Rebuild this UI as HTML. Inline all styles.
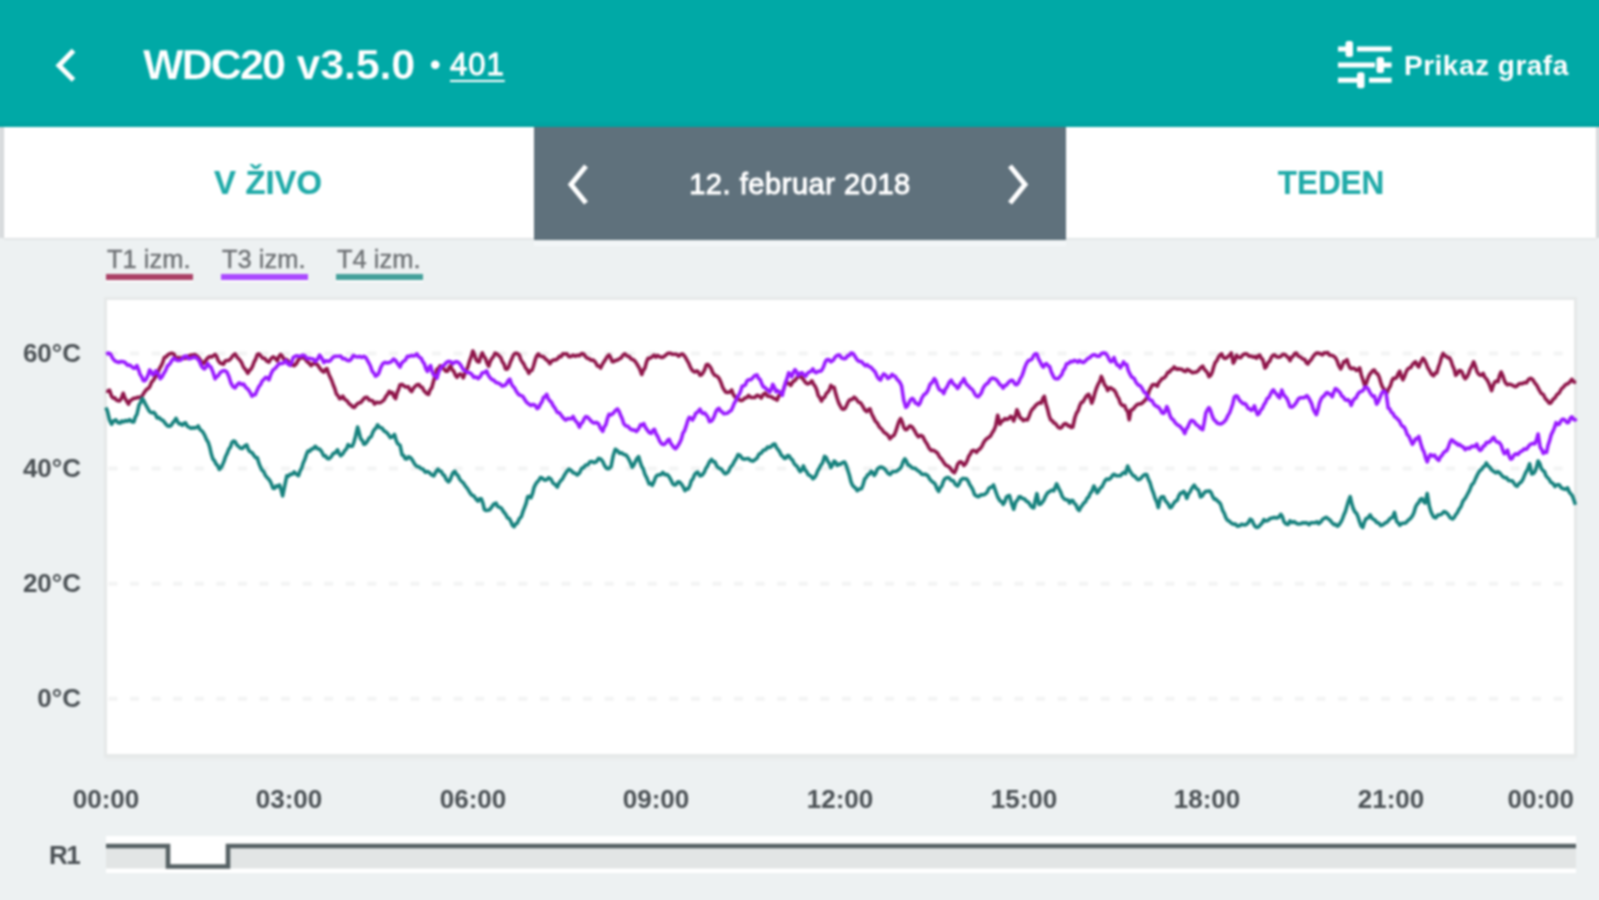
<!DOCTYPE html>
<html lang="sl">
<head>
<meta charset="utf-8">
<title>WDC20 v3.5.0</title>
<style>
html,body{margin:0;padding:0;}
body{width:1599px;height:900px;overflow:hidden;background:#edf1f2;font-family:"Liberation Sans",sans-serif;position:relative;}
#root{position:absolute;left:-10px;top:-10px;width:1619px;height:920px;overflow:hidden;background:#edf1f2;filter:blur(0.9px);}
#in{position:absolute;left:10px;top:10px;width:1599px;height:900px;}
.abs{position:absolute;white-space:nowrap;}
#header{left:-10px;top:-10px;width:1619px;height:137.6px;background:linear-gradient(to bottom,#00a9a6 0,#00a9a6 130px,#00a19f 136px,#00a19f 137px);}
#title{left:143px;top:40px;font-size:43px;line-height:48px;font-weight:bold;letter-spacing:-0.9px;color:#fff;-webkit-text-stroke:0.25px #00a9a6;}
#bullet{left:430px;top:44.5px;font-size:30px;line-height:40px;color:#fff;font-weight:bold;}
#num{left:450px;top:45px;font-size:31px;line-height:40px;letter-spacing:1px;color:#fff;-webkit-text-stroke:0.9px #fff;text-decoration:underline;text-decoration-thickness:2px;text-underline-offset:5px;}
#prikaz{left:1404px;top:49px;font-size:28px;line-height:34px;font-weight:bold;letter-spacing:0.5px;color:#fff;}
#tabL{left:4px;top:127px;width:530px;height:111px;background:#fff;box-shadow:0 1px 2px rgba(0,0,0,.10);}
#tabR{left:1066px;top:127px;width:530px;height:111px;background:#fff;box-shadow:0 1px 2px rgba(0,0,0,.08);}
#tabM{left:534px;top:127px;width:532px;height:113px;background:#5f717c;}
.tabtxt{font-size:34px;line-height:40px;color:#1faaa8;font-weight:bold;text-align:center;-webkit-text-stroke:0.2px #1faaa8;}
#date{left:534px;top:164px;width:532px;text-align:center;font-size:29px;line-height:40px;letter-spacing:0.55px;color:#fff;-webkit-text-stroke:1px #fff;}
.leg{top:244px;font-size:25.5px;line-height:30px;color:#6d7174;-webkit-text-stroke:0.4px #6d7174;text-shadow:0 1px 0 rgba(255,255,255,.7);}
.legbar{top:274px;height:6px;box-shadow:0 2px 1px rgba(255,255,255,.8);}
#plot{left:107px;top:300px;width:1467px;height:454px;background:#fff;box-shadow:0 0 0 3px #e6e9e9,0 3px 3px 2px #e7eaea;}
.yl{left:0;width:81px;text-align:right;font-size:26px;line-height:30px;font-weight:bold;color:#4b5155;}
.xl{top:784px;width:120px;text-align:center;font-size:26px;line-height:30px;font-weight:bold;color:#4b5155;}
#r1{left:49px;top:840px;font-size:26px;letter-spacing:-1.5px;line-height:30px;font-weight:bold;color:#4b5155;}
#strip{left:106px;top:836px;width:1470px;height:37px;background:#fff;}
</style>
</head>
<body>
<div id="root"><div id="in">
<div id="header" class="abs"></div>
<svg class="abs" style="left:50px;top:45px" width="32" height="42" viewBox="0 0 32 42"><path d="M23.5 5.5 L9 20.5 L23.5 35" fill="none" stroke="#fff" stroke-width="5"/></svg>
<div id="title" class="abs"><span style="letter-spacing:-1.9px">WDC20</span><span style="letter-spacing:-0.2px;margin-left:0.8px"> v3.5.0</span></div>
<div id="bullet" class="abs">•</div>
<div id="num" class="abs">401</div>
<svg class="abs" style="left:1334px;top:36px" width="62" height="56" viewBox="0 0 62 56">
<g fill="#fff">
<rect x="4" y="10.5" width="9" height="5"/><rect x="11.5" y="5" width="7.5" height="16" rx="2.5"/><rect x="23" y="10.5" width="34.6" height="5"/>
<rect x="4" y="26.5" width="37" height="5"/><rect x="42.5" y="21" width="7.5" height="16" rx="2.5"/><rect x="50" y="26.5" width="7.6" height="5"/>
<rect x="4" y="41.7" width="19" height="5"/><rect x="23" y="36.2" width="7.5" height="16" rx="2.5"/><rect x="35" y="41.7" width="22.6" height="5"/>
</g></svg>
<div id="prikaz" class="abs">Prikaz grafa</div>

<div class="abs" style="left:-10px;top:127px;width:1619px;height:111px;background:#d9dcde"></div>
<div id="tabL" class="abs"></div>
<div id="tabR" class="abs"></div>
<div id="tabM" class="abs"></div>
<div class="abs" style="left:534px;top:242px;width:532px;height:4px;background:#f3f6f8"></div>
<div class="abs tabtxt" style="left:3px;top:162.3px;width:530px;transform:scaleX(0.965);word-spacing:0.5px">V ŽIVO</div>
<div class="abs tabtxt" style="left:1066px;top:162.3px;width:530px;transform:scaleX(0.925)">TEDEN</div>
<svg class="abs" style="left:560px;top:160px" width="36" height="48" viewBox="0 0 36 48"><path d="M26 6 L11 24.5 L26 43" fill="none" stroke="#fff" stroke-width="5"/></svg>
<svg class="abs" style="left:1000px;top:160px" width="36" height="48" viewBox="0 0 36 48"><path d="M10 6 L25 24.5 L10 43" fill="none" stroke="#fff" stroke-width="5"/></svg>
<div id="date" class="abs">12. februar 2018</div>

<div class="abs leg" style="left:107px">T1 izm.</div>
<div class="abs legbar" style="left:106px;width:87px;background:#ab4166"></div>
<div class="abs leg" style="left:222px">T3 izm.</div>
<div class="abs legbar" style="left:221px;width:87px;background:#aa4aff"></div>
<div class="abs leg" style="left:337px">T4 izm.</div>
<div class="abs legbar" style="left:336px;width:87px;background:#44a09b"></div>

<div id="plot" class="abs"></div>
<div class="abs yl" style="top:338px">60°C</div>
<div class="abs yl" style="top:453px">40°C</div>
<div class="abs yl" style="top:568px">20°C</div>
<div class="abs yl" style="top:683px">0°C</div>

<svg id="chart" class="abs" style="left:0;top:0" width="1599" height="900" viewBox="0 0 1599 900">
<g stroke="#f3f4f4" stroke-width="4" stroke-dasharray="9 12.57" fill="none">
<path d="M108.5 353.6H1573"/><path d="M108.5 468.6H1573"/><path d="M108.5 583.7H1573"/><path d="M108.5 698.7H1573"/>
</g>
<path d="M106.3,390.7 107.9,391.3 109.5,390.2 111.6,396.3 113.2,398.1 114.8,397.8 116.3,400.0 117.9,400.7 119.5,400.9 121.1,398.9 123.2,393.3 124.8,397.9 126.4,400.7 128.5,404.1 130.1,400.7 131.7,399.7 133.8,398.2 135.9,398.1 138.0,397.2 140.1,397.6 142.2,395.9 144.3,392.3 146.4,389.6 148.6,388.2 150.1,385.9 151.7,381.8 153.3,380.4 154.9,377.8 156.5,375.6 158.1,372.2 159.6,368.3 161.2,365.8 162.8,362.3 164.4,357.2 166.0,357.0 167.6,355.1 169.7,353.8 171.8,353.2 173.9,354.1 175.5,357.5 177.1,358.8 178.8,357.4 180.6,358.7 182.3,357.4 184.4,358.4 186.6,357.9 188.7,355.9 190.8,355.1 192.9,355.1 194.7,354.6 196.4,355.6 198.2,357.1 200.3,359.9 202.4,363.8 204.0,362.9 205.6,360.6 207.7,358.0 209.8,356.5 211.6,357.0 213.3,355.8 215.1,354.5 216.6,356.3 218.2,360.5 220.0,363.0 221.7,363.5 223.5,364.2 225.1,361.2 226.7,360.5 228.8,360.5 230.9,358.5 233.0,355.5 235.1,353.9 237.2,357.3 239.3,359.4 241.4,362.3 243.6,367.4 245.7,369.8 247.8,373.3 249.4,370.5 251.0,369.2 252.6,366.2 254.1,362.0 255.7,359.2 257.3,354.5 258.9,353.9 260.5,355.6 262.6,358.1 264.7,358.3 266.8,361.1 268.9,362.1 271.0,358.6 273.1,356.9 275.2,358.2 277.3,360.9 278.9,356.5 280.5,354.5 282.1,355.9 283.7,359.2 285.8,359.2 287.9,360.5 289.5,364.0 291.1,365.2 292.6,364.6 294.2,365.7 296.4,363.6 298.5,359.6 300.6,358.0 302.7,357.5 304.8,358.7 306.9,361.5 309.0,363.0 311.1,365.6 313.2,363.5 315.3,363.8 317.5,364.7 319.6,367.9 321.7,370.7 323.8,372.1 325.4,369.4 327.0,368.7 328.6,373.6 330.1,377.1 331.7,380.5 333.3,385.0 334.9,388.9 336.5,394.2 338.1,395.7 339.6,398.7 341.2,398.3 342.8,396.2 344.9,399.5 347.0,400.7 349.1,403.8 351.2,405.2 352.8,407.0 354.4,407.4 356.5,404.7 358.6,403.0 360.7,402.5 362.8,400.0 365.0,397.5 367.1,397.4 369.2,400.0 371.3,400.4 372.9,401.2 374.5,404.0 376.6,402.3 378.7,402.8 380.8,402.4 382.9,400.9 384.5,399.2 386.1,396.2 387.6,394.3 389.2,391.3 390.8,393.1 392.4,392.5 394.0,396.6 395.6,398.5 397.1,392.8 398.7,389.0 400.0,384.8 402.1,384.4 404.2,386.2 406.3,387.0 408.4,386.7 410.0,390.0 411.6,391.6 413.2,388.6 414.8,386.7 416.9,384.7 419.0,384.5 420.6,387.0 422.2,387.2 423.8,390.4 425.3,392.0 426.9,393.8 428.5,394.3 430.1,389.8 431.7,387.9 433.8,380.3 435.4,375.4 436.9,369.2 438.5,368.6 440.1,365.8 442.2,366.8 444.3,369.4 445.9,371.2 447.5,371.2 449.1,367.5 450.7,365.8 452.2,369.8 453.8,371.2 455.4,375.1 457.0,377.3 458.6,375.0 460.2,373.9 461.8,375.1 463.3,377.8 464.9,373.2 466.5,370.4 468.1,366.1 469.7,360.6 471.2,356.7 472.8,351.0 474.4,354.5 476.0,359.4 477.6,361.7 479.2,361.9 480.8,356.2 482.3,352.9 483.9,356.3 485.5,358.6 487.1,363.1 488.7,366.2 490.2,361.5 491.8,358.7 493.4,356.7 495.0,353.2 497.1,354.0 499.2,356.1 500.8,357.7 502.4,361.8 504.0,364.1 505.6,369.0 507.1,369.1 508.7,367.0 510.3,362.3 511.9,358.7 513.5,354.9 515.1,353.3 517.2,353.4 519.3,355.2 520.8,359.6 522.4,362.1 524.0,364.4 525.6,368.1 527.2,369.7 528.8,373.4 530.3,370.7 531.9,370.5 533.5,366.0 535.1,360.2 536.7,355.8 538.3,353.9 539.8,355.9 541.4,356.4 543.5,356.7 545.7,359.2 547.8,360.7 549.9,363.7 552.0,360.7 554.1,359.9 555.9,359.9 557.6,358.7 559.4,356.4 561.2,356.6 562.9,353.8 564.7,354.0 566.8,353.7 568.9,356.6 571.0,356.5 573.1,355.1 575.2,356.3 577.3,355.2 579.4,355.7 581.6,353.6 583.7,354.1 585.5,356.6 587.2,358.3 589.0,358.6 591.1,360.2 593.2,360.1 595.3,362.0 597.4,366.0 599.0,366.0 600.6,368.0 602.7,363.7 604.8,360.6 606.9,357.1 609.0,354.9 610.6,357.5 612.2,361.6 613.8,361.8 615.3,360.4 617.5,360.1 619.6,358.7 621.3,357.8 623.1,354.9 624.8,353.8 627.0,356.1 629.1,356.5 631.2,359.1 633.3,359.7 635.4,361.6 637.5,365.0 639.6,368.7 641.7,374.5 643.3,370.4 644.9,368.1 646.5,362.0 648.1,358.2 650.2,358.1 652.3,356.7 654.1,355.1 655.8,357.1 657.6,355.4 659.7,356.8 661.8,357.5 663.9,356.7 666.0,354.9 668.1,353.2 670.2,353.2 672.4,354.3 674.5,354.3 676.6,354.2 678.7,356.2 680.8,354.4 682.9,354.1 685.0,356.7 687.1,360.3 688.7,363.1 690.3,367.0 691.9,369.9 693.5,371.3 695.0,372.0 696.6,370.9 698.3,371.8 700.0,375.2 701.6,374.8 703.2,372.5 704.8,369.4 706.3,364.7 707.9,364.4 709.5,366.0 711.1,368.4 712.7,372.5 714.8,375.4 716.9,376.1 719.0,378.2 721.1,382.8 722.7,387.3 724.3,390.1 725.8,392.3 727.4,392.4 729.5,392.2 731.7,390.0 733.2,394.3 734.8,396.7 736.4,398.6 738.0,398.3 739.6,400.0 741.2,400.6 742.8,400.1 744.3,398.3 746.5,397.8 748.6,395.5 750.7,397.4 752.8,397.5 754.9,397.5 757.0,395.2 759.1,396.0 761.2,398.0 763.3,394.3 765.4,393.2 767.5,396.1 769.7,396.5 771.8,397.0 773.9,398.7 775.5,398.8 777.1,400.1 778.7,396.0 780.2,394.2 781.8,392.6 783.4,390.0 785.0,385.0 786.6,382.5 788.7,383.4 790.8,385.3 792.9,381.6 795.0,380.4 797.1,377.7 799.2,376.3 801.3,377.2 803.4,379.4 805.5,382.6 807.7,383.9 809.8,383.1 811.9,380.8 813.5,384.1 815.1,386.1 816.7,389.8 818.2,395.5 819.8,397.6 821.4,401.1 823.0,398.1 824.6,397.3 826.2,393.6 827.7,392.2 829.3,390.1 830.9,385.4 832.5,387.4 834.1,387.2 835.7,393.6 837.2,398.5 838.8,403.1 840.4,406.1 842.0,408.8 843.6,409.3 845.2,408.3 846.7,405.3 848.3,401.6 849.9,399.7 852.0,399.4 854.1,397.2 856.2,398.9 858.3,402.1 860.5,402.8 862.6,405.9 864.7,409.8 866.8,411.6 868.4,409.6 870.0,408.8 871.5,413.5 873.1,416.6 875.2,420.9 877.3,423.1 879.5,427.2 881.6,429.0 883.7,432.0 885.8,433.5 887.9,435.1 890.0,438.8 892.1,436.4 894.2,435.2 895.8,431.2 897.4,426.1 899.0,421.3 900.6,418.6 902.2,422.0 903.7,427.1 905.3,429.6 906.9,429.5 908.5,427.2 910.1,425.9 912.2,427.1 914.3,430.2 916.4,434.1 918.5,436.8 920.6,435.4 922.7,436.4 924.9,440.8 927.0,443.9 929.1,448.1 931.2,450.5 933.3,450.3 935.4,451.5 937.5,453.2 939.6,457.0 941.7,459.3 943.8,462.6 946.0,465.3 948.1,466.2 950.2,468.1 952.3,471.3 954.4,472.7 956.0,469.5 957.6,464.3 959.2,462.3 960.7,461.8 962.3,463.0 963.9,465.4 965.5,464.0 967.1,460.8 968.7,456.4 970.2,454.3 971.8,451.2 973.4,450.4 975.0,450.9 976.6,452.3 978.2,450.0 979.7,449.1 981.9,446.3 984.0,441.9 986.1,439.2 988.2,437.7 990.3,436.3 992.4,432.5 994.0,430.1 995.6,426.1 997.7,415.2 1000.0,424.2 1001.6,421.4 1003.2,420.4 1004.8,418.7 1006.3,419.5 1008.5,418.8 1010.6,416.3 1012.2,417.5 1013.7,421.0 1015.3,416.5 1016.9,409.8 1018.5,413.2 1020.1,417.8 1021.7,418.5 1023.2,420.6 1025.3,419.6 1027.4,420.0 1029.0,416.6 1030.6,412.1 1032.2,409.4 1033.8,407.9 1035.9,405.1 1038.0,403.5 1039.6,402.7 1041.2,403.1 1042.8,398.6 1044.3,396.3 1045.9,403.7 1047.5,408.9 1049.1,415.5 1050.7,419.9 1052.2,420.6 1053.8,422.9 1055.4,423.5 1057.0,425.7 1058.6,427.6 1060.2,428.1 1061.8,427.2 1063.3,424.8 1064.9,423.6 1066.5,424.0 1068.1,425.9 1069.7,425.8 1071.2,427.4 1072.8,427.0 1074.9,417.5 1076.5,413.1 1078.1,410.7 1079.7,405.7 1081.3,402.5 1082.8,402.0 1084.4,399.3 1086.6,395.8 1088.7,394.3 1090.2,398.0 1091.8,403.1 1093.4,398.9 1095.0,392.5 1096.6,387.8 1098.2,384.1 1099.8,381.4 1101.3,376.4 1102.9,380.0 1104.5,384.8 1106.1,386.6 1107.7,390.5 1109.2,388.1 1110.8,387.7 1112.4,389.3 1114.0,389.9 1115.6,392.3 1117.2,396.1 1118.8,398.6 1120.3,403.2 1122.4,405.5 1124.6,405.6 1126.2,409.6 1127.7,411.5 1129.2,419.8 1130.9,410.2 1133.0,409.4 1135.1,406.7 1137.2,404.4 1139.3,403.9 1141.4,403.7 1143.6,401.6 1145.7,399.7 1147.8,395.6 1149.4,390.3 1151.0,387.4 1152.5,384.7 1154.1,384.5 1155.7,384.7 1157.3,386.2 1158.9,382.3 1160.5,380.8 1162.0,378.6 1163.6,378.3 1165.7,376.3 1167.8,372.2 1169.4,372.1 1171.0,369.9 1172.6,369.2 1174.2,366.9 1176.3,369.1 1178.4,368.9 1180.2,369.1 1181.9,369.2 1183.7,371.1 1185.5,371.5 1187.2,369.4 1189.0,370.1 1190.7,371.6 1192.5,372.8 1194.2,372.2 1196.3,372.1 1198.5,370.5 1200.6,367.6 1202.7,366.1 1204.2,369.2 1205.8,370.8 1207.4,372.7 1209.0,376.6 1210.6,375.5 1212.2,372.3 1213.8,366.5 1215.3,362.4 1216.9,360.6 1218.5,357.1 1220.1,354.8 1221.7,353.9 1223.2,357.3 1224.8,358.4 1226.4,358.1 1228.0,356.4 1229.6,355.2 1231.2,353.0 1233.3,363.1 1234.9,360.3 1236.5,355.3 1238.6,357.4 1240.7,357.6 1242.8,354.9 1244.9,353.8 1247.0,354.1 1249.1,356.2 1251.2,356.1 1253.3,357.2 1254.9,356.6 1256.5,358.2 1258.1,355.8 1259.7,355.1 1261.2,358.1 1262.8,359.6 1265.0,368.1 1266.5,366.4 1268.1,362.4 1269.7,361.3 1271.3,357.5 1272.9,355.3 1274.5,354.9 1276.6,356.8 1278.7,357.3 1280.8,356.4 1282.9,354.3 1285.0,354.5 1287.1,356.8 1288.5,357.6 1290.0,360.6 1291.6,357.3 1293.2,356.2 1294.8,353.5 1296.3,353.1 1298.4,356.2 1300.6,357.1 1302.7,358.9 1304.8,359.4 1306.3,362.8 1307.9,363.9 1309.5,361.3 1311.1,359.9 1313.2,356.3 1315.3,353.8 1317.1,352.9 1318.8,353.2 1320.6,354.0 1322.4,354.9 1324.1,352.8 1325.9,353.0 1327.7,352.6 1329.4,355.1 1331.2,355.3 1333.3,355.9 1335.4,357.6 1337.0,360.5 1338.6,365.2 1340.7,368.9 1342.2,365.9 1343.8,361.6 1345.4,361.6 1347.0,359.6 1348.6,364.9 1350.2,368.1 1351.8,368.7 1353.3,368.1 1354.9,368.7 1356.5,370.5 1358.1,370.1 1359.7,367.9 1361.2,374.7 1362.8,379.5 1364.9,386.3 1366.5,382.5 1368.1,377.7 1369.7,374.4 1371.3,372.5 1372.8,370.5 1374.4,370.1 1376.0,373.0 1377.6,373.9 1379.2,377.0 1380.8,382.6 1382.3,386.7 1383.9,388.9 1385.5,391.6 1387.1,392.5 1388.7,388.6 1390.3,386.0 1391.8,381.2 1393.4,378.2 1395.0,378.5 1396.6,377.5 1398.2,373.6 1399.8,371.2 1401.3,376.6 1402.9,379.8 1404.5,376.4 1406.1,372.0 1407.7,369.1 1409.3,367.9 1410.8,367.5 1412.4,364.7 1414.0,362.8 1415.6,361.8 1417.2,365.3 1418.8,366.9 1420.9,361.8 1423.0,358.2 1424.6,360.2 1426.2,363.7 1427.8,367.8 1429.3,370.2 1431.4,374.2 1433.6,375.7 1435.2,373.0 1436.7,372.9 1438.3,367.4 1439.9,363.0 1441.5,357.2 1443.1,353.4 1444.7,355.7 1446.2,356.2 1447.8,357.8 1449.4,357.7 1451.0,360.8 1452.6,365.7 1454.2,369.3 1455.7,375.3 1457.3,373.8 1458.9,370.8 1460.5,370.5 1462.1,372.3 1463.7,376.5 1465.2,378.7 1466.8,377.0 1468.4,374.2 1470.0,369.5 1471.6,366.6 1473.7,361.8 1475.2,365.8 1476.8,371.1 1478.4,373.9 1480.0,375.2 1481.6,375.1 1483.2,373.3 1484.8,377.3 1486.3,378.7 1487.9,381.2 1489.5,384.9 1491.6,390.6 1493.2,385.5 1494.8,382.0 1496.4,381.1 1498.0,381.6 1499.5,375.8 1501.1,372.0 1502.7,375.4 1504.3,380.3 1505.9,383.4 1507.5,384.8 1509.6,384.1 1511.7,384.9 1513.5,385.8 1515.2,386.8 1517.0,385.9 1518.7,384.1 1520.5,383.5 1522.2,383.8 1524.3,382.6 1526.5,382.8 1528.6,379.4 1530.7,378.3 1532.8,379.8 1534.9,383.1 1537.0,385.7 1539.1,389.9 1541.2,393.4 1543.3,394.5 1545.4,398.8 1547.6,400.9 1549.2,403.2 1550.7,403.1 1552.8,399.7 1555.0,397.8 1557.1,394.4 1559.2,393.0 1561.3,389.0 1563.4,387.2 1565.5,384.6 1567.6,383.8 1569.7,382.1 1571.8,379.3 1573.9,382.0 1576.1,382.2" fill="none" stroke="#8e1449" stroke-width="3.6" stroke-linejoin="round" stroke-linecap="butt"/>
<path d="M106.3,354.4 108.4,353.1 110.6,354.2 112.7,358.4 114.8,360.8 116.9,361.8 119.0,362.4 121.1,361.5 123.2,361.7 125.3,362.7 127.4,365.1 129.5,365.0 131.7,366.7 133.8,368.3 135.4,367.9 136.9,365.6 138.5,369.5 140.1,374.5 141.7,376.7 143.3,380.6 144.9,380.7 146.4,378.6 148.0,375.2 149.6,370.0 151.2,371.8 152.8,374.8 154.4,373.6 155.9,370.9 158.1,373.6 160.2,378.6 161.8,377.2 163.3,374.3 165.4,370.9 167.6,365.7 169.1,364.7 170.7,362.5 172.3,359.7 173.9,358.1 176.0,359.8 178.1,360.5 180.2,360.2 182.3,358.9 184.4,356.3 186.5,356.0 188.7,358.8 190.8,358.4 192.9,357.4 195.0,357.1 197.1,358.3 199.2,360.8 201.3,365.7 202.9,368.0 204.5,368.8 206.1,366.8 207.7,363.5 209.2,365.9 210.8,367.0 212.9,371.9 215.1,378.8 216.6,376.7 218.2,375.7 220.3,372.4 222.4,371.0 224.6,370.6 226.7,371.8 228.8,376.3 230.9,383.0 233.0,386.7 235.1,387.8 237.2,384.7 239.3,382.9 241.4,384.5 243.6,384.0 245.7,387.3 247.8,389.0 249.9,392.0 252.0,396.2 253.6,394.7 255.2,394.7 257.0,390.6 258.7,386.9 260.5,384.7 262.2,381.0 264.0,379.3 265.7,377.4 267.3,377.7 268.9,379.8 271.0,373.9 273.1,369.9 275.2,368.4 277.3,365.8 279.5,363.6 281.6,363.5 283.7,362.9 285.8,360.3 287.9,364.0 290.0,365.3 291.6,362.5 293.2,357.5 295.0,356.4 296.7,355.8 298.5,356.2 300.6,356.3 302.7,355.1 304.8,355.8 306.9,358.8 309.0,358.2 311.1,358.7 313.2,359.0 315.3,361.7 317.5,359.2 319.6,355.1 321.7,358.1 323.8,362.6 325.9,360.7 328.0,361.4 330.1,360.8 332.2,358.2 334.3,356.4 336.5,356.3 338.6,356.2 340.7,356.1 342.8,358.8 344.9,358.6 347.0,360.3 349.1,360.8 351.2,359.2 353.3,355.5 355.4,356.5 357.6,356.9 359.7,356.4 361.8,357.5 363.9,356.3 366.0,357.8 368.1,361.7 370.2,365.5 372.3,371.4 373.9,373.0 375.5,376.2 377.1,375.3 378.7,373.3 380.8,367.4 382.9,363.5 385.0,362.4 387.1,362.9 389.2,362.7 391.4,361.7 393.5,359.1 395.6,360.5 397.7,363.8 400.0,367.0 401.6,363.3 403.2,361.6 405.3,360.1 407.4,356.3 409.5,356.4 411.6,355.5 413.4,355.9 415.1,355.6 416.9,353.9 419.0,357.0 421.1,358.2 422.7,361.6 424.3,363.6 425.9,368.8 427.4,371.4 429.0,367.9 430.6,365.6 432.2,371.7 433.8,375.3 435.4,375.8 436.9,378.3 438.5,372.5 440.1,369.1 442.2,366.1 444.3,365.0 446.5,362.3 448.6,361.4 450.7,361.8 452.8,363.7 454.9,362.1 457.0,361.7 459.1,363.0 461.2,365.9 463.3,369.7 465.4,370.8 467.5,372.5 469.7,372.8 471.8,374.4 473.9,377.4 476.0,376.9 478.1,378.6 480.2,376.7 482.3,372.8 484.5,372.5 486.6,370.9 488.1,374.8 489.7,377.3 491.8,379.5 493.9,380.2 496.0,382.6 498.2,383.1 500.3,384.1 502.4,386.1 504.5,385.6 506.6,383.7 508.2,380.6 509.8,379.2 511.4,383.9 512.9,386.3 514.5,387.8 516.1,391.0 518.2,394.1 520.3,395.4 522.5,396.1 524.6,399.3 526.7,402.4 528.8,404.0 530.9,405.4 533.0,404.5 535.1,405.2 537.2,408.5 538.8,407.4 540.4,404.1 542.0,401.8 543.6,397.2 545.2,396.7 546.7,394.3 548.3,398.8 549.9,400.9 551.5,402.4 553.1,405.7 555.2,408.5 557.3,412.4 559.4,412.8 561.5,415.7 563.6,418.4 565.7,420.1 567.9,418.5 570.0,418.7 571.5,418.8 573.1,416.5 575.2,420.5 577.3,422.8 579.5,427.1 581.0,423.8 582.6,422.2 584.2,418.8 585.8,416.6 587.9,417.3 590.0,419.8 592.1,422.1 594.2,423.0 596.4,422.4 598.5,423.8 600.6,428.4 602.7,431.3 604.2,427.0 605.8,424.7 607.4,418.7 609.0,414.3 611.1,414.9 613.2,413.3 615.4,410.5 617.5,409.0 619.0,411.2 620.6,415.3 622.2,418.7 623.8,423.8 625.9,425.9 628.0,426.3 630.1,428.8 632.2,429.9 634.4,430.1 636.5,431.5 638.6,428.8 640.7,424.6 642.2,425.1 643.8,423.6 645.4,427.4 647.0,429.6 649.1,432.5 651.2,433.3 652.8,430.4 654.4,429.3 656.0,433.7 657.6,436.3 659.7,441.1 661.8,444.0 663.9,444.6 666.0,442.9 667.6,440.4 669.2,439.4 670.8,443.4 672.3,445.3 673.9,447.6 675.5,448.7 677.6,446.3 679.7,442.8 681.3,439.2 682.9,433.2 684.5,430.8 686.1,426.2 687.7,420.8 689.2,417.4 690.8,418.0 692.4,420.0 694.0,417.6 695.6,413.5 697.8,411.9 700.0,409.2 701.6,412.5 703.2,413.5 704.8,413.0 706.3,415.0 707.9,417.2 709.5,421.6 711.1,421.2 712.7,419.5 714.2,416.4 715.8,411.8 717.4,409.3 719.0,408.3 720.6,411.0 722.2,412.1 723.8,413.7 725.3,413.5 727.5,413.3 729.6,411.3 731.2,410.5 732.7,407.3 734.3,403.2 735.9,400.6 737.5,396.7 739.1,394.6 740.7,391.1 742.2,386.1 743.8,385.9 745.4,384.7 747.0,380.9 748.6,379.7 750.7,379.8 752.8,377.7 754.9,375.4 757.0,374.9 758.6,378.5 760.2,379.6 761.8,383.9 763.3,386.8 764.9,387.5 766.5,389.3 768.1,390.0 769.7,392.1 771.2,389.4 772.8,384.4 774.4,387.4 776.0,391.7 777.6,390.5 779.2,391.9 780.8,393.0 782.3,395.3 783.9,387.9 785.5,382.5 787.1,378.4 788.7,372.8 790.2,374.2 791.8,376.7 793.4,372.2 795.0,369.7 796.6,371.8 798.2,375.7 800.3,373.1 802.4,372.9 804.0,375.3 805.6,376.2 807.7,373.0 809.8,371.8 811.3,371.0 812.9,368.9 814.5,371.8 816.1,372.7 818.2,371.3 820.3,371.3 821.9,370.0 823.5,366.9 825.1,362.3 826.7,359.7 828.8,359.5 830.9,361.9 833.0,360.4 835.1,357.2 837.2,355.3 839.3,354.9 841.5,357.9 843.6,358.6 845.7,358.4 847.8,355.6 849.4,355.4 851.0,353.1 853.1,353.6 855.2,356.7 857.3,360.1 859.4,361.4 861.5,361.6 863.6,364.0 865.4,365.8 867.1,364.7 868.9,366.6 871.0,367.3 873.1,369.8 875.2,372.0 877.3,376.7 878.9,379.0 880.5,380.1 882.1,376.3 883.7,374.0 885.8,375.3 887.9,378.4 890.0,377.2 892.1,374.4 893.7,375.9 895.3,376.4 896.9,379.2 898.5,380.6 900.0,382.6 901.6,386.1 903.7,399.9 905.8,407.3 907.4,406.0 909.0,402.8 910.6,399.6 912.2,398.4 913.8,399.9 915.3,403.0 916.9,403.5 918.5,405.1 920.1,402.9 921.7,398.4 923.8,394.8 925.9,393.5 928.0,390.2 930.1,384.4 932.2,382.4 934.3,378.6 935.9,380.9 937.5,385.7 939.1,389.3 940.7,390.4 942.2,391.0 943.8,393.5 945.4,389.1 947.0,387.0 949.1,382.5 951.2,380.2 952.8,383.2 954.4,384.8 956.0,386.0 957.6,388.4 959.2,386.5 960.7,383.1 962.3,381.7 963.9,378.6 965.5,382.5 967.1,385.0 968.7,386.0 970.2,388.2 971.8,389.0 973.4,391.2 975.0,394.4 976.6,396.3 978.2,396.7 979.7,395.1 981.3,393.0 982.9,388.7 984.5,385.8 986.1,384.3 988.2,382.7 990.3,379.3 992.4,378.1 994.5,378.7 996.1,379.4 997.7,381.4 1000.0,384.7 1001.6,385.8 1003.2,388.1 1004.8,385.6 1006.3,385.2 1008.5,382.4 1010.6,380.6 1012.2,380.2 1013.7,382.0 1015.3,384.4 1016.9,384.6 1018.5,382.7 1020.1,378.9 1021.7,376.4 1023.2,372.5 1024.8,367.4 1026.4,363.6 1028.5,360.5 1030.6,359.9 1032.2,358.7 1033.8,355.3 1035.3,353.8 1036.9,354.1 1038.5,358.8 1040.1,361.7 1041.7,365.1 1043.3,367.2 1044.8,364.5 1046.4,363.6 1048.0,365.6 1049.6,366.5 1051.2,371.8 1052.8,375.1 1054.3,378.0 1055.9,378.8 1058.1,378.7 1060.2,376.4 1061.8,374.5 1063.3,370.4 1064.9,368.3 1066.5,363.8 1068.6,363.4 1070.7,361.4 1072.5,361.8 1074.2,360.4 1076.0,360.9 1077.8,362.2 1079.5,360.4 1081.3,361.7 1083.4,362.5 1085.5,360.8 1087.6,358.7 1089.7,357.7 1091.5,355.8 1093.2,354.9 1095.0,354.9 1097.1,356.1 1099.2,356.3 1101.3,353.7 1103.4,352.9 1105.6,353.3 1107.7,356.2 1109.2,359.6 1110.8,361.8 1112.4,360.9 1114.0,357.5 1115.6,362.1 1117.2,365.3 1118.8,365.3 1120.3,367.9 1121.9,365.4 1123.5,361.9 1125.1,364.4 1126.7,364.5 1128.2,370.2 1129.8,373.7 1131.9,377.2 1134.1,378.3 1136.2,382.6 1138.3,385.0 1140.4,385.9 1142.5,389.1 1144.3,392.5 1146.0,393.0 1147.8,396.9 1149.9,400.0 1152.0,400.6 1154.1,404.5 1156.2,406.2 1158.3,407.0 1160.5,409.9 1162.0,412.8 1163.6,413.4 1165.2,411.1 1166.8,406.6 1168.4,410.0 1170.0,415.4 1171.5,418.6 1173.1,419.5 1175.2,422.7 1177.3,424.8 1179.4,425.8 1181.6,428.3 1183.2,430.2 1184.7,433.5 1186.3,429.2 1187.9,426.9 1189.5,423.1 1191.1,420.5 1192.7,420.5 1194.2,421.9 1196.3,424.7 1198.5,426.0 1200.6,428.5 1202.7,429.6 1204.2,422.5 1205.8,413.0 1207.4,409.8 1209.0,407.6 1210.6,410.7 1212.2,415.7 1213.8,419.5 1215.3,420.8 1217.4,423.2 1219.6,423.9 1221.7,423.6 1223.8,422.1 1225.9,419.7 1228.0,415.4 1229.6,412.9 1231.2,408.5 1232.8,403.7 1234.3,397.2 1235.9,395.8 1237.5,396.4 1239.1,399.7 1240.7,401.5 1242.8,403.6 1244.9,403.5 1246.5,405.3 1248.1,408.4 1249.7,408.7 1251.2,410.4 1252.8,409.2 1254.4,405.8 1256.0,410.9 1257.6,414.7 1259.2,413.3 1260.7,410.1 1262.3,408.5 1263.9,404.8 1265.5,402.4 1267.1,398.6 1268.7,397.7 1270.2,394.7 1271.8,391.5 1273.4,389.8 1275.0,392.5 1276.6,394.0 1278.2,396.7 1279.7,397.9 1281.8,390.1 1283.4,394.2 1285.0,396.4 1286.6,398.0 1288.2,401.4 1290.0,406.8 1292.1,407.2 1294.2,405.3 1296.3,402.7 1298.4,398.9 1300.6,397.7 1302.7,397.7 1304.8,397.4 1306.9,395.6 1308.5,397.6 1310.1,400.7 1311.7,403.9 1313.2,408.9 1314.8,412.3 1316.4,414.6 1318.0,409.4 1319.6,402.7 1321.2,398.9 1322.7,396.8 1324.3,395.7 1325.9,393.2 1327.5,392.5 1329.1,394.1 1330.7,394.5 1332.2,396.8 1333.8,392.2 1335.4,388.6 1337.0,389.3 1338.6,391.2 1340.2,392.8 1341.7,396.1 1343.3,396.8 1344.9,399.5 1346.5,400.3 1348.1,399.7 1349.7,401.6 1351.2,405.3 1352.8,401.1 1354.4,398.8 1356.0,397.9 1357.6,394.5 1359.7,391.9 1361.8,391.2 1363.3,390.3 1364.9,387.0 1366.5,387.2 1368.1,388.7 1369.7,392.1 1371.3,394.6 1372.8,396.4 1374.4,396.0 1376.6,404.1 1378.2,401.8 1379.7,398.0 1381.3,394.1 1382.9,391.3 1384.5,391.2 1386.1,393.3 1388.2,407.9 1389.8,409.0 1391.3,412.2 1392.9,413.2 1394.5,416.6 1396.1,417.4 1397.7,419.3 1399.2,420.6 1400.8,424.1 1402.4,426.3 1404.0,426.9 1405.6,429.9 1407.2,434.6 1408.8,436.0 1410.3,439.4 1412.4,444.3 1414.0,442.0 1415.6,438.7 1417.2,438.6 1418.8,436.5 1420.9,444.0 1422.5,449.1 1424.1,452.1 1425.7,458.0 1427.2,461.9 1428.8,457.7 1430.4,454.6 1432.5,456.0 1434.6,455.2 1436.7,458.6 1438.8,460.3 1440.4,456.8 1442.0,455.4 1443.6,452.7 1445.2,451.4 1446.8,450.4 1448.3,447.3 1449.9,442.5 1451.5,439.9 1453.1,440.6 1454.7,442.8 1456.2,442.9 1457.8,445.0 1459.4,444.3 1461.0,445.9 1463.1,446.9 1465.2,449.7 1467.3,448.0 1469.5,448.6 1471.6,446.4 1473.7,446.2 1475.2,446.4 1476.8,444.1 1478.4,448.5 1480.0,450.4 1481.6,449.3 1483.2,446.2 1484.8,445.6 1486.3,442.6 1488.4,442.4 1490.6,441.1 1492.2,438.6 1493.7,437.4 1495.3,440.4 1496.9,442.0 1499.0,442.3 1501.1,445.0 1502.7,450.0 1504.3,453.7 1505.9,452.7 1507.5,450.1 1509.0,455.7 1510.6,459.1 1512.2,458.5 1513.8,455.3 1515.9,453.8 1518.0,454.5 1520.1,451.8 1522.2,450.9 1524.3,448.9 1526.5,449.3 1528.6,446.2 1530.7,444.1 1532.8,443.4 1534.9,443.8 1536.5,439.9 1538.1,434.0 1540.2,447.3 1541.8,449.8 1543.3,453.4 1544.9,451.9 1546.5,452.4 1548.1,445.1 1549.7,440.4 1551.2,434.8 1552.8,431.6 1554.4,427.9 1556.0,422.7 1557.6,424.4 1559.2,424.2 1560.8,421.1 1562.3,419.3 1563.9,419.3 1565.5,420.8 1567.1,422.7 1568.7,422.2 1570.2,418.3 1571.8,416.8 1573.4,419.3 1575.0,419.6 1576.1,421.3" fill="none" stroke="#9818ff" stroke-width="3.6" stroke-linejoin="round" stroke-linecap="butt"/>
<path d="M105.9,407.6 107.4,410.9 109.5,419.9 111.6,424.2 113.7,420.8 115.8,419.9 117.9,422.6 120.1,423.1 121.8,421.0 123.6,422.0 125.3,420.5 127.4,421.2 129.6,419.6 131.7,421.6 133.8,421.9 135.4,416.9 136.9,414.3 139.1,404.9 140.6,402.5 142.2,398.4 143.8,400.7 145.4,404.2 147.5,407.9 149.1,410.8 150.7,412.4 152.2,412.9 153.8,412.3 155.4,414.2 157.0,417.9 159.1,417.6 161.2,419.7 163.3,420.7 165.4,423.6 167.6,425.9 169.7,426.2 171.2,425.4 172.8,422.8 174.4,421.1 176.0,418.3 177.6,421.7 179.2,424.0 180.8,423.7 182.3,425.2 183.9,423.4 185.5,422.8 187.1,425.9 188.7,427.0 190.8,428.2 192.9,427.9 194.7,427.9 196.4,427.6 198.2,426.0 200.3,429.9 202.4,431.4 204.5,434.9 206.6,439.7 208.2,442.2 209.8,447.3 211.4,454.3 212.9,459.0 214.5,460.8 216.1,464.1 217.7,465.6 219.3,469.4 220.9,467.8 222.4,465.1 224.0,461.4 225.6,456.5 227.2,453.4 228.8,449.2 230.4,447.1 231.9,442.6 233.5,441.0 235.1,441.6 236.7,444.8 238.3,446.1 240.4,448.2 242.5,448.4 244.6,446.0 246.7,444.9 248.3,449.4 249.9,451.7 252.0,452.6 254.1,455.6 255.7,457.7 257.3,457.8 258.9,463.2 260.5,467.2 262.1,470.3 263.6,471.4 265.7,475.9 267.8,478.2 269.4,479.9 271.0,482.8 273.1,488.3 274.7,488.4 276.3,485.9 277.9,486.5 279.5,484.9 281.1,489.8 282.6,495.8 284.7,485.9 286.8,475.8 288.4,476.2 290.0,474.4 292.1,474.2 294.2,472.0 296.4,474.3 298.5,475.6 300.1,470.8 301.6,468.2 303.2,462.9 304.8,459.5 306.4,454.6 308.0,451.0 309.6,451.3 311.1,449.3 313.2,448.7 315.3,446.3 317.5,448.8 319.6,449.1 321.7,451.7 323.8,456.0 325.6,455.9 327.3,458.5 329.1,458.8 331.2,456.8 333.3,453.4 335.4,452.8 337.5,449.8 339.1,453.5 340.7,455.7 342.8,453.8 344.9,450.4 346.5,448.8 348.1,444.7 350.2,446.2 352.3,446.3 353.9,442.3 355.5,436.5 357.6,427.1 359.1,432.3 360.7,438.9 362.3,440.4 363.9,444.2 365.5,443.7 367.1,441.6 369.2,438.0 371.3,436.5 372.9,432.1 374.5,429.3 376.1,428.0 377.6,424.8 379.7,427.4 381.8,427.9 384.0,430.9 386.1,432.1 388.2,434.3 390.3,437.6 392.4,436.8 394.5,434.5 396.1,440.2 397.7,443.8 400.0,445.2 402.1,454.9 403.7,455.7 405.3,458.8 406.9,458.9 408.4,456.8 410.5,457.6 412.7,460.6 414.8,464.3 416.9,466.4 419.0,466.8 421.1,468.6 423.2,469.3 425.3,472.2 427.5,471.5 429.6,472.8 431.7,474.9 433.8,475.8 435.9,471.8 438.0,469.1 439.6,471.3 441.2,471.3 442.8,474.5 444.3,475.4 446.5,479.9 448.6,481.8 450.1,479.9 451.7,475.6 453.3,472.4 454.9,471.3 456.5,474.3 458.1,475.7 459.6,479.0 461.2,481.0 463.3,482.8 465.4,486.1 467.5,488.6 469.7,492.3 471.8,495.1 473.9,496.0 476.0,499.1 478.1,501.1 479.7,498.9 481.3,498.8 482.9,503.2 484.4,509.5 486.0,510.5 487.6,510.3 489.7,509.8 491.8,506.9 494.0,503.9 496.1,503.2 497.6,506.4 499.2,507.1 501.3,508.1 503.4,511.5 505.5,514.1 507.7,518.0 509.2,518.4 510.8,521.3 512.4,525.2 514.0,526.7 515.6,524.1 517.2,523.2 519.3,518.7 521.4,516.5 523.0,511.4 524.6,507.3 526.2,503.0 527.7,496.7 529.3,496.2 530.9,497.8 532.5,493.7 534.1,487.3 535.7,484.1 537.2,481.9 538.8,480.5 540.4,477.5 542.5,478.3 544.6,480.1 546.7,479.8 548.8,477.6 551.0,479.2 553.1,483.3 555.2,484.5 557.3,487.1 558.9,483.3 560.5,481.0 562.6,478.7 564.7,474.7 566.8,471.4 568.9,469.2 571.0,470.3 573.1,472.7 575.2,473.3 577.3,475.0 579.5,472.9 581.6,468.5 583.7,467.5 585.8,465.0 587.9,464.7 590.0,461.8 592.1,461.6 594.2,462.7 596.4,461.7 598.5,458.4 600.6,459.0 602.7,461.4 604.8,466.0 606.9,468.5 609.0,468.6 611.1,466.4 613.2,455.7 615.3,449.3 617.5,450.8 619.6,453.2 621.7,452.9 623.8,454.5 625.9,454.9 628.0,457.7 630.1,461.8 632.2,467.1 633.8,465.1 635.4,461.6 637.0,458.4 638.6,456.6 640.2,462.2 641.7,466.3 643.3,469.0 644.9,474.2 647.0,478.4 649.1,483.9 650.7,483.4 652.3,485.3 653.9,482.0 655.5,477.5 657.0,475.4 658.6,474.9 660.7,474.7 662.8,472.5 665.0,474.8 667.1,474.5 669.2,476.8 671.3,480.7 672.9,484.0 674.5,485.0 676.0,484.5 677.6,482.0 679.2,481.9 680.8,483.4 682.9,486.3 685.0,490.6 686.6,488.8 688.2,489.0 689.8,485.8 691.3,480.7 692.9,478.9 694.5,474.9 696.1,472.8 697.7,472.1 700.0,475.9 702.1,475.2 704.2,472.4 705.8,468.6 707.4,466.2 709.5,461.7 711.6,459.5 713.2,461.7 714.8,461.8 716.9,466.3 719.0,468.1 721.1,469.0 723.2,471.6 724.8,473.8 726.4,473.4 728.5,471.6 730.6,467.1 732.7,464.7 734.8,460.7 736.4,458.3 738.0,454.6 740.1,455.5 742.2,458.6 744.3,459.2 746.4,458.7 748.5,458.5 750.7,460.6 752.8,461.1 754.9,459.8 757.0,458.1 759.1,454.1 761.2,453.1 763.3,450.2 765.5,449.8 767.6,447.1 769.7,447.5 771.8,446.0 773.3,444.2 774.9,444.0 776.5,447.7 778.1,449.6 779.7,451.9 781.3,455.3 782.8,456.4 784.4,458.5 786.0,458.0 787.6,455.5 789.2,456.0 790.8,458.7 792.3,459.7 793.9,463.1 795.5,465.2 797.1,466.2 798.7,469.4 800.3,471.6 801.8,469.9 803.4,465.9 805.0,469.9 806.6,471.6 808.2,474.6 809.8,475.5 811.3,476.5 812.9,478.7 814.5,477.5 816.1,475.0 817.7,470.8 819.3,468.2 820.8,465.1 822.4,463.3 824.6,456.4 826.2,457.5 827.7,461.1 829.3,463.4 830.9,467.6 832.5,465.1 834.1,461.1 835.7,462.2 837.2,465.4 838.8,464.1 840.4,464.4 842.5,462.5 844.6,462.1 846.2,465.4 847.8,470.2 849.4,475.3 851.0,481.7 852.5,485.3 854.1,487.0 855.7,488.2 857.3,490.7 859.4,489.0 861.5,488.7 863.1,484.6 864.7,478.9 866.2,477.5 867.8,474.6 869.4,474.0 871.0,471.3 872.6,472.5 874.2,475.4 875.8,473.2 877.3,469.2 879.5,467.4 881.6,467.1 883.7,468.1 885.8,470.3 887.9,473.2 890.0,474.5 892.1,472.1 894.2,471.5 896.4,471.4 898.5,469.7 900.0,468.6 901.6,466.2 903.2,461.5 904.8,458.8 906.4,461.1 908.0,465.0 909.5,465.3 911.1,466.9 913.2,468.3 915.3,468.4 917.5,470.5 919.6,471.6 921.7,474.1 923.8,474.4 925.9,474.3 928.0,476.0 930.1,479.6 932.2,481.7 933.8,482.6 935.4,484.7 937.0,488.9 938.6,491.4 940.2,487.8 941.7,486.3 943.3,481.6 944.9,478.7 947.0,477.5 949.1,477.8 951.2,480.3 953.3,480.8 955.5,484.5 957.6,486.1 959.2,483.7 960.7,480.1 962.9,478.4 965.0,478.8 966.5,478.7 968.1,481.1 969.7,484.6 971.3,487.0 972.9,489.8 974.5,494.5 976.6,496.2 978.7,496.7 980.8,494.8 982.9,494.9 985.0,494.2 987.1,492.4 988.7,488.6 990.3,487.3 991.9,487.0 993.5,485.0 995.6,491.2 997.7,497.0 1000.0,500.8 1001.6,501.6 1003.2,504.4 1004.8,501.8 1006.3,497.4 1007.9,495.9 1009.5,495.6 1011.6,503.4 1013.7,509.2 1015.8,501.8 1017.4,500.3 1019.0,496.9 1020.6,496.8 1022.2,498.5 1024.3,498.8 1026.4,501.2 1028.5,502.3 1030.6,505.5 1032.2,507.4 1033.8,507.8 1035.3,500.1 1036.9,493.7 1039.1,504.4 1040.7,504.1 1042.2,502.3 1043.8,500.2 1045.4,496.5 1047.5,492.8 1049.6,491.6 1051.7,490.1 1053.8,490.8 1056.6,483.9 1059.1,489.1 1060.7,492.1 1062.3,496.7 1064.4,499.2 1066.5,499.8 1068.1,500.3 1069.7,503.0 1071.2,500.5 1072.8,500.6 1074.4,503.5 1076.0,504.9 1077.6,508.9 1079.2,510.4 1080.8,507.2 1082.3,505.3 1083.9,502.9 1085.5,501.7 1087.1,498.2 1088.7,497.0 1090.2,493.4 1091.8,491.5 1093.9,486.0 1095.5,488.9 1097.1,492.9 1098.7,491.0 1100.3,488.0 1101.8,487.1 1103.4,484.0 1105.0,480.8 1106.6,479.1 1108.7,479.5 1110.8,478.1 1112.4,475.5 1114.0,474.3 1116.1,475.6 1118.2,475.7 1120.3,475.7 1122.4,473.5 1124.0,472.4 1125.6,473.6 1127.7,466.1 1129.3,469.9 1130.9,472.7 1133.0,475.5 1135.1,476.5 1136.7,478.7 1138.3,479.8 1140.4,478.8 1142.5,476.4 1144.6,474.5 1146.7,474.6 1148.3,479.2 1149.9,482.3 1152.0,489.4 1153.6,493.5 1155.2,498.7 1156.8,502.0 1158.3,507.6 1160.5,497.9 1162.0,496.7 1163.6,496.7 1165.2,500.5 1166.8,502.2 1168.4,504.4 1170.0,507.7 1171.5,507.2 1173.1,504.3 1175.2,501.4 1177.3,500.2 1178.9,495.7 1180.5,493.1 1182.1,493.0 1183.7,491.3 1185.2,493.6 1186.8,498.3 1188.4,494.0 1190.0,492.0 1192.1,487.8 1194.2,485.1 1196.3,488.5 1198.5,490.0 1200.6,496.9 1202.2,496.0 1203.7,493.4 1205.8,491.4 1208.0,491.3 1209.5,490.9 1211.1,492.6 1212.7,496.5 1214.3,499.2 1215.9,499.0 1217.5,501.1 1219.0,502.1 1220.6,504.2 1222.7,510.7 1224.3,513.4 1225.9,517.8 1227.5,520.4 1229.1,521.0 1231.2,523.1 1233.3,524.1 1235.4,524.1 1237.5,526.1 1239.6,525.8 1241.7,524.2 1243.8,524.9 1246.0,524.6 1248.1,522.8 1250.2,519.2 1251.8,520.1 1253.3,523.3 1254.9,526.2 1256.5,527.4 1258.6,526.9 1260.7,524.5 1262.3,522.8 1263.9,519.7 1266.0,521.1 1268.1,520.4 1270.2,518.4 1272.3,517.9 1274.4,517.4 1276.6,517.9 1278.7,517.3 1280.8,514.3 1282.4,516.8 1284.0,521.7 1286.1,523.9 1288.2,524.4 1290.0,520.9 1292.1,522.5 1294.2,521.6 1296.3,523.2 1298.4,524.0 1300.6,523.8 1302.7,522.7 1304.8,522.9 1306.9,522.9 1309.0,524.6 1311.1,522.7 1313.2,522.7 1315.3,522.7 1317.1,521.8 1318.8,523.7 1320.6,522.2 1322.7,519.2 1324.8,518.0 1326.4,517.3 1328.0,518.6 1330.1,520.2 1332.2,523.0 1334.0,524.6 1335.7,524.4 1337.5,526.2 1339.1,524.8 1340.7,522.3 1342.2,519.5 1343.8,515.1 1345.4,511.5 1347.0,506.1 1348.6,500.6 1350.2,496.7 1351.8,503.8 1353.3,508.6 1354.9,511.9 1356.5,513.3 1358.1,517.0 1359.7,522.1 1361.2,526.0 1362.8,527.6 1364.4,522.1 1366.0,518.7 1368.1,517.9 1370.2,514.9 1371.8,518.0 1373.4,519.2 1375.0,520.1 1376.6,522.4 1378.7,522.9 1380.8,525.6 1382.9,524.9 1385.0,523.0 1387.1,522.2 1389.2,519.6 1390.8,517.9 1392.4,517.6 1394.5,512.4 1396.6,521.4 1398.2,522.8 1399.8,525.2 1401.9,523.3 1404.0,523.2 1406.1,522.7 1408.2,520.2 1410.3,518.6 1412.4,515.9 1414.0,512.5 1415.6,506.9 1417.2,504.1 1418.8,502.4 1420.3,499.3 1421.9,498.6 1423.5,501.5 1425.1,503.1 1427.2,493.6 1429.3,506.0 1430.9,511.4 1432.5,515.0 1434.1,517.4 1435.7,517.9 1437.8,515.1 1439.9,514.8 1442.0,513.8 1444.1,511.6 1446.2,512.5 1448.3,514.8 1450.4,517.9 1452.6,519.0 1454.2,517.5 1455.7,514.7 1457.3,512.8 1458.9,509.5 1461.0,506.4 1463.1,500.9 1465.2,498.4 1467.3,494.5 1469.4,490.6 1471.6,485.1 1473.7,482.9 1475.8,478.1 1477.9,473.8 1480.0,470.6 1481.6,469.5 1483.2,467.1 1484.8,466.0 1486.3,463.0 1487.9,465.6 1489.5,466.9 1491.6,469.9 1493.7,471.4 1495.8,472.8 1498.0,471.7 1500.1,473.3 1502.2,476.0 1504.3,477.7 1506.4,477.6 1508.5,480.4 1510.6,480.7 1512.2,480.8 1513.8,482.9 1515.4,485.4 1517.0,486.3 1519.1,483.5 1521.2,482.0 1522.8,479.6 1524.3,475.9 1525.9,472.2 1527.5,469.6 1529.6,463.8 1531.7,473.9 1533.3,473.6 1534.9,471.6 1536.5,467.4 1538.1,461.0 1539.7,463.4 1541.2,468.2 1542.8,470.4 1544.4,471.5 1546.0,475.8 1547.6,477.7 1549.2,479.2 1550.7,482.2 1552.8,483.3 1555.0,486.5 1557.1,484.7 1559.2,484.8 1561.3,487.9 1563.4,488.7 1565.5,489.4 1567.6,487.8 1569.2,492.0 1570.8,493.9 1572.4,495.9 1574.0,500.3 1575.4,504.7" fill="none" stroke="#15817d" stroke-width="3.6" stroke-linejoin="round" stroke-linecap="butt"/>
</svg>

<div class="abs xl" style="left:46px">00:00</div>
<div class="abs xl" style="left:229px">03:00</div>
<div class="abs xl" style="left:413px">06:00</div>
<div class="abs xl" style="left:596px">09:00</div>
<div class="abs xl" style="left:780px">12:00</div>
<div class="abs xl" style="left:964px">15:00</div>
<div class="abs xl" style="left:1147px">18:00</div>
<div class="abs xl" style="left:1331px">21:00</div>
<div class="abs xl" style="left:1480px;text-align:right;width:94px">00:00</div>

<div id="r1" class="abs">R1</div>
<div id="strip" class="abs"></div>
<svg class="abs" style="left:0;top:830px" width="1599" height="60" viewBox="0 830 1599 60">
<path d="M106 846H168V866.5H228V846H1576V868.5H106Z" fill="#e2e5e5"/>
<path d="M106 846H168V866.5H228V846H1576" fill="none" stroke="#566164" stroke-width="4.6"/>
</svg>
</div></div>
</body>
</html>
